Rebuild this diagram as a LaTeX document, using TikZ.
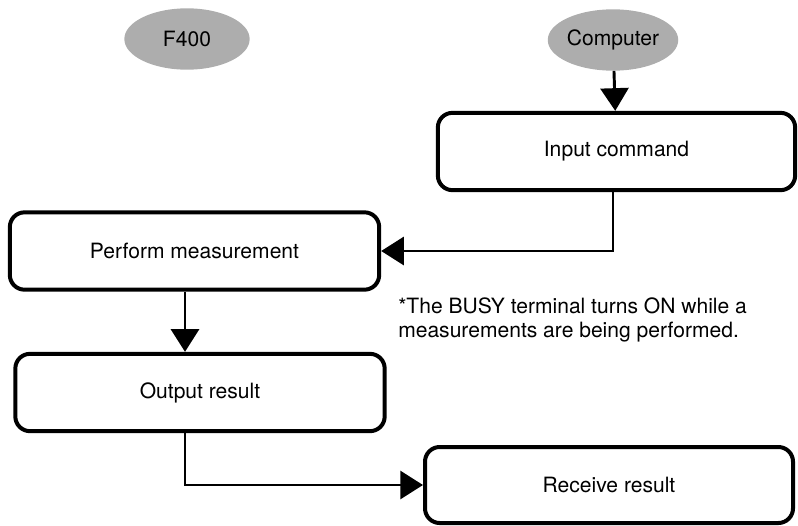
\documentclass[tikz,border=0pt]{standalone}
\usepackage{fontspec}
\setmainfont{TeX Gyre Heros}
\usepackage{tikz}
\usetikzlibrary{arrows.meta,positioning,shapes.geometric}

\begin{document}
\begin{tikzpicture}[x=0.75pt, y=-0.75pt,
  side/.style={ellipse, fill=black!32, minimum width=94pt, minimum height=46pt,
               inner sep=0pt, font=\fontsize{15.8}{19}\selectfont},
  box/.style={draw=black, line width=3pt, rounded corners=11pt, fill=white,
              minimum width=277pt, minimum height=58pt, align=center,
              font=\fontsize{15.8}{19}\selectfont},
  note/.style={align=left, anchor=north west, inner sep=0pt,
               font=\fontsize{15.8}{18}\selectfont},
  arr/.style={-{Triangle[length=17pt, width=21pt]}, line width=2.2pt}
]
\useasboundingbox (0,0) rectangle (798,525);
\node[side] (f400) at (187,39) {F400};
\node[side] (comp) at (613,40) {Computer};
\node[box, minimum width=268pt] (inp) at (616.5,151.5) {Input command};
\node[box] (meas) at (194.5,251) {Perform measurement};
\node[box] (outp) at (200,392.5) {Output result};
\node[box, minimum width=276pt, minimum height=57pt] (recv) at (609,485) {Receive result};
\node[note] (busy) at (398,297) {*The BUSY terminal turns ON while a\\measurements are being performed.};
\coordinate (lane) at (185,0);
\draw[arr] (comp) -- (inp);
\draw[arr] (inp.south -| comp) |- (meas.east);
\draw[arr] (meas.south -| lane) -- (outp.north -| lane);
\draw[arr] (outp.south -| lane) |- (recv.west);
\end{tikzpicture}
\end{document}
